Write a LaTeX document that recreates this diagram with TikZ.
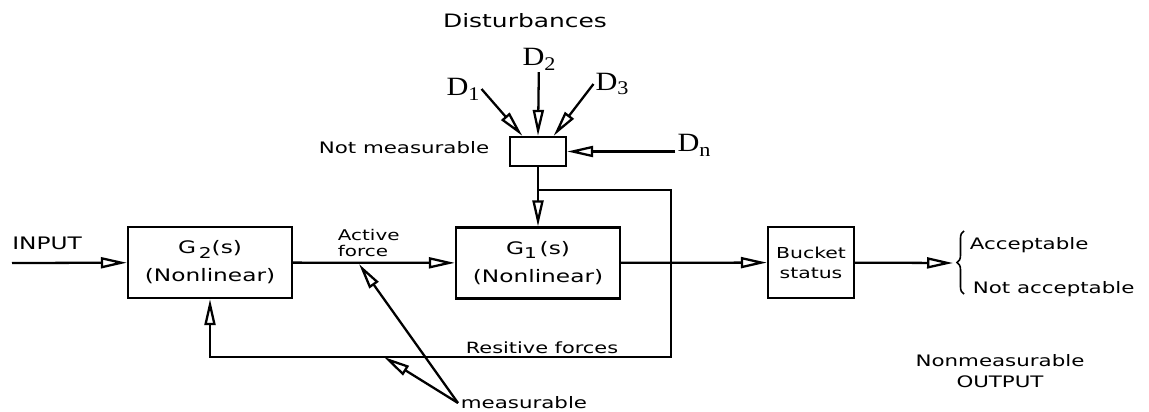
\documentclass[tikz,border=0pt]{standalone}
\usepackage{fontspec}
\setmainfont{DejaVu Sans}[FakeStretch=1.35]
\newfontfamily\dfont{Liberation Serif}[FakeStretch=1.15]
\newcommand{\lowsub}[1]{\raisebox{-0.45ex}{\fontsize{8.5}{9}\selectfont#1}}
\newcommand{\dlow}[1]{\raisebox{-0.4ex}{\fontsize{11}{12}\selectfont#1}}
\newcommand{\dsub}[1]{{\dfont D\dlow{#1}}}
\usetikzlibrary{arrows.meta,decorations.pathreplacing}

\begin{document}
\begin{tikzpicture}[x=0.2mm,y=-0.2mm,line width=1.3pt,
  blk/.style={draw,inner sep=0pt,align=center},
  arr/.style={-{Triangle[open,length=5.2mm,width=2.2mm]}},
  lbl/.style={inner sep=1pt,font=\fontsize{9}{11}\selectfont},
  dlbl/.style={inner sep=0.5pt,font=\fontsize{15}{16}\selectfont}]
\useasboundingbox (0,0) rectangle (1149,412);
\node[blk,minimum width=3.28cm,minimum height=1.42cm,font=\fontsize{9.8}{16}\selectfont] (g2) at (210,262.5) {G\,\lowsub{2}(s)\\(Nonlinear)};
\node[blk,minimum width=3.28cm,minimum height=1.42cm,font=\fontsize{9.8}{16}\selectfont] (g1) at (538,263) {G\lowsub{1}\,(s)\\(Nonlinear)};
\node[blk,minimum width=1.72cm,minimum height=1.42cm,font=\fontsize{8.6}{11.3}\selectfont] (bk) at (811,262.5) {Bucket\\status};
\node[blk,minimum width=1.12cm,minimum height=0.58cm] (nm) at (538,151.5) {};
\node[dlbl] (d1) at (463,89) {\dsub{1}};
\node[dlbl] (d2) at (539,59) {\dsub{2}};
\node[dlbl] (d3) at (612,84) {\dsub{3}};
\node[dlbl] (dn) at (694,145) {\dsub{n}};
\node[lbl,font=\fontsize{10.5}{12}\selectfont] (dist) at (525,21) {Disturbances};
\node[lbl] (notm) at (404,148) {Not measurable};
\node[lbl,font=\fontsize{9.8}{12}\selectfont] (inp) at (47,243) {INPUT};
\node[lbl,anchor=west,align=left,font=\fontsize{8.4}{9.6}\selectfont] (act) at (335,243) {Active\\force};
\node[lbl,font=\fontsize{8.8}{11}\selectfont] (res) at (542,348) {Resitive forces};
\node[lbl,anchor=west] (meas) at (458,403) {measurable};
\node[lbl,anchor=west] (acc) at (967,245) {Acceptable};
\node[lbl,anchor=west] (nacc) at (970,289) {Not acceptable};
\node[lbl,align=center,font=\fontsize{9}{12}\selectfont] (nmo) at (1000,371.5) {Nonmeasurable\\OUTPUT};
\coordinate (in) at (12,263);
\coordinate (br) at (538,190);
\coordinate (fb) at (671,357);
\coordinate (out) at (953,263);
\coordinate (af) at (359,264);
\coordinate (rf) at (384,357);
\draw[arr] (in) -- (g2);
\draw[arr] (g2) -- (g1);
\draw[arr] (g1) -- (bk);
\draw[arr] (bk) -- (out);
\draw[arr] (nm) -- (g1);
\draw[arr] (br) -| (fb) -| (g2.south);
\draw[arr] (d1.east) -- (nm.135);
\draw[arr] (d2) -- (nm.north);
\draw[arr] (d3.west) -- (nm.45);
\draw[arr] (dn.west |- nm.east) -- (nm.east);
\draw[arr] (meas.west) -- (af);
\draw[arr] (meas.west) -- (rf);
\draw[line width=0.9pt,decorate,decoration={brace,amplitude=4pt}] (964,294) -- (964,231);
\end{tikzpicture}
\end{document}
